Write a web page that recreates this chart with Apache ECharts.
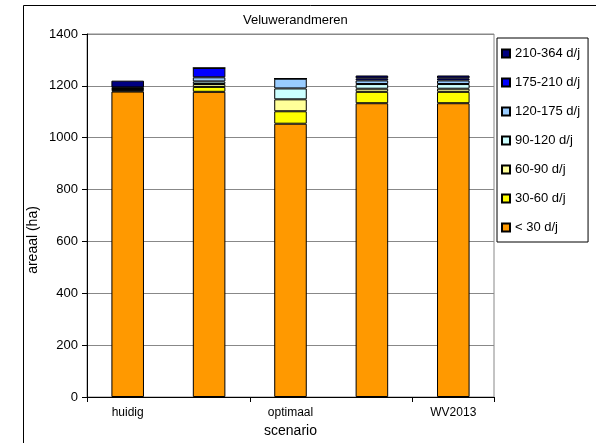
<!DOCTYPE html>
<html><head><meta charset="utf-8">
<script src="https://cdn.jsdelivr.net/npm/echarts@6/dist/echarts.min.js"></script>
<style>html,body{margin:0;padding:0;background:#fff}#c{width:596px;height:443px}</style>
</head><body><div id="c"></div>
<script>
const categories = ['huidig', 'B', 'optimaal', 'D', 'WV2013'];
const classNames = ['< 30 d/j', '30-60 d/j', '60-90 d/j', '90-120 d/j', '120-175 d/j', '175-210 d/j', '210-364 d/j'];
const classColors = ['#FF9900', '#FFFF00', '#FFFF99', '#CCFFFF', '#99CCFF', '#0000FF', '#000080'];
const lt30 = [1178, 1177, 1054, 1133, 1133];
const d30_60 = [4, 19, 48, 44, 44];
const d60_90 = [3, 11, 46, 12, 12];
const d90_120 = [3, 10, 42, 18, 18];
const d120_175 = [3, 16, 38, 14, 14];
const d175_210 = [3, 36, 0, 8, 8];
const d210_364 = [26, 0, 0, 11, 11];
const yTicks = [0, 200, 400, 600, 800, 1000, 1200, 1400];

const seriesData = [lt30, d30_60, d60_90, d90_120, d120_175, d175_210, d210_364];
const font = 'Liberation Sans, Arial, sans-serif';
const chart = echarts.init(document.getElementById('c'), null, {renderer: 'canvas'});
chart.setOption({
  animation: false,
  textStyle: {fontFamily: font, color: '#000'},
  graphic: [
    {type: 'rect', shape: {x: 23.5, y: 5.5, width: 620, height: 500}, style: {fill: 'none', stroke: '#000', lineWidth: 1}, z: -1},
    {type: 'text', x: 33, y: 240, rotation: Math.PI / 2,
     style: {text: 'areaal (ha)', fontFamily: font, fontSize: 14, fill: '#000', align: 'center', verticalAlign: 'middle'}}
  ],
  title: {text: 'Veluwerandmeren', left: 238, top: 9, textStyle: {fontFamily: font, fontSize: 13, fontWeight: 'normal', color: '#000'}},
  legend: {
    orient: 'vertical', left: 497, top: 38,
    data: classNames.slice().reverse(),
    icon: 'rect', itemWidth: 8, itemHeight: 8, itemGap: 16,
    padding: [9, 8, 8, 4],
    borderColor: '#000', borderWidth: 1,
    textStyle: {fontFamily: font, fontSize: 13, color: '#000'}
  },
  grid: {left: 87, top: 34, right: 102, bottom: 46, show: true, borderColor: '#888', borderWidth: 1, containLabel: false},
  xAxis: {
    type: 'category', data: categories,
    name: 'scenario', nameLocation: 'middle', nameGap: 26,
    nameTextStyle: {fontFamily: font, fontSize: 14, color: '#000'},
    axisLine: {lineStyle: {color: '#000', width: 1}},
    axisTick: {show: true, length: 5, lineStyle: {color: '#000'}},
    axisLabel: {interval: 1, margin: 10, fontSize: 12, fontFamily: font, color: '#000'}
  },
  yAxis: {
    type: 'value', min: 0, max: 1400, interval: 200,
    axisLine: {show: true, lineStyle: {color: '#000', width: 1}},
    axisTick: {show: true, length: 5, lineStyle: {color: '#000'}},
    axisLabel: {fontSize: 13, fontFamily: font, color: '#000', margin: 9,
      formatter: v => yTicks.includes(v) ? String(v) : ''},
    splitLine: {show: true, lineStyle: {color: '#888', width: 1}}
  },
  series: seriesData.map((d, i) => ({
    name: classNames[i], type: 'bar', stack: 'total', data: d,
    barWidth: '40%',
    itemStyle: {color: classColors[i], borderColor: '#000', borderWidth: 1}
  }))
});
</script></body></html>
